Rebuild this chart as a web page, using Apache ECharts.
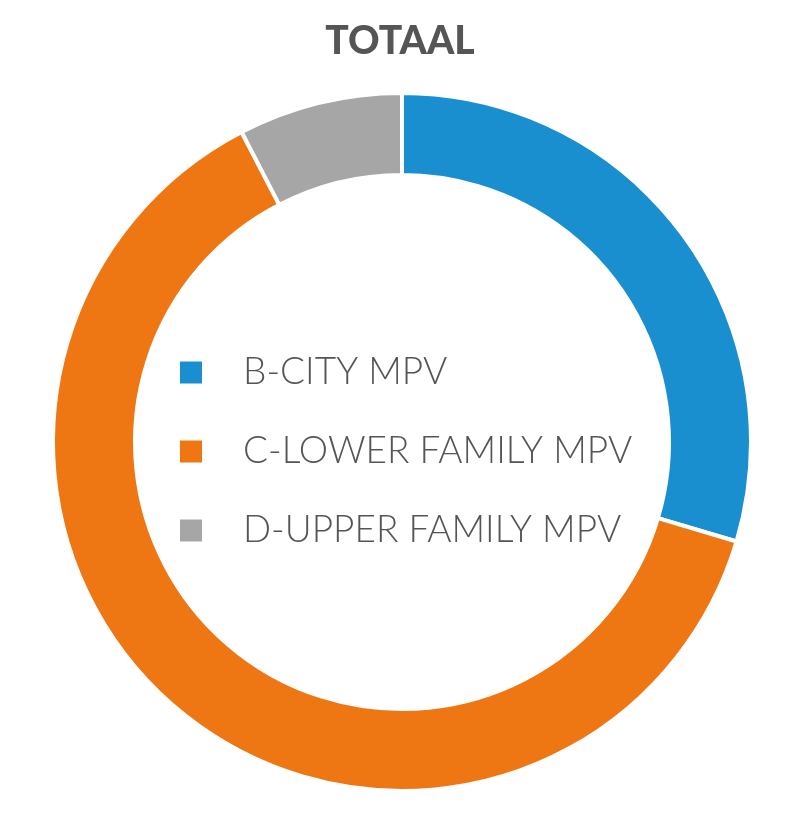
<!DOCTYPE html>
<html>
<head>
<meta charset="utf-8">
<script src="https://cdn.jsdelivr.net/npm/echarts@6/dist/echarts.min.js"></script>
<style>
  html, body { margin: 0; padding: 0; background: #fff; }
  #chart-container { width: 800px; height: 824px; }
</style>
</head>
<body>
<div id="chart-container"></div>
<script>
var categories = ['B-CITY MPV', 'C-LOWER FAMILY MPV', 'D-UPPER FAMILY MPV'];
var shares = [29.6, 62.8, 7.6];
var colors = ['#1a8fd0', '#ee7713', '#a6a6a6'];

var dom = document.getElementById('chart-container');
var myChart = echarts.init(dom, null, { renderer: 'canvas' });

var option = {
  animation: false,
  color: colors,
  title: {
    text: 'TOTAAL',
    left: 'center',
    top: 17,
    textStyle: {
      fontFamily: 'Lato',
      fontWeight: 900,
      fontSize: 39,
      color: '#555555'
    }
  },
  legend: {
    orient: 'vertical',
    left: 175,
    top: 349,
    icon: 'rect',
    itemWidth: 22,
    itemHeight: 22,
    itemGap: 42,
    itemStyle: { borderWidth: 0 },
    selectedMode: false,
    textStyle: {
      fontFamily: 'Lato',
      fontWeight: 300,
      fontSize: 37,
      color: '#555555',
      padding: [0, 0, 0, 36]
    },
    data: categories
  },
  series: [
    {
      type: 'pie',
      center: [402, 442],
      radius: [267, 349],
      startAngle: 90,
      clockwise: true,
      label: { show: false },
      labelLine: { show: false },
      itemStyle: { borderColor: '#ffffff', borderWidth: 4 },
      emphasis: { disabled: true },
      data: categories.map(function (name, i) {
        return { name: name, value: shares[i] };
      })
    }
  ]
};

if (option && typeof option === 'object') {
  myChart.setOption(option);
}

window.addEventListener('resize', myChart.resize);
</script>
</body>
</html>
